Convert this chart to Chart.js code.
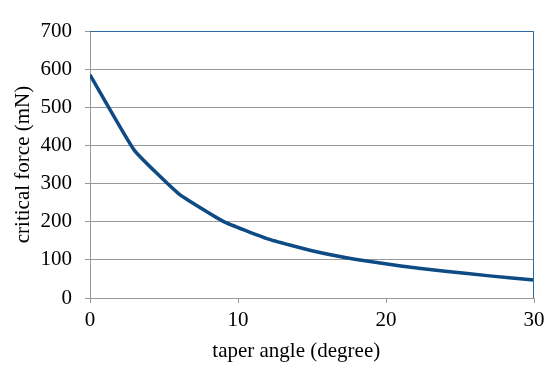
<!DOCTYPE html>
<html>
<head>
<meta charset="utf-8">
<script src="https://cdn.jsdelivr.net/npm/chart.js@4/dist/chart.umd.min.js"></script>
<style>
  html, body { margin: 0; padding: 0; background: #fff; }
  #wrap { width: 550px; height: 375px; }
</style>
</head>
<body>
<div id="wrap"><canvas id="forceChart"></canvas></div>
<script>
// taper angle (degree) vs critical force (mN)
const taperAngles = [0, 3, 6, 9, 12, 15, 18, 21, 24, 27, 30];
const criticalForce = [585, 387, 273, 201, 155, 124, 101, 84, 70, 58, 47];
const xTicks = [0, 10, 20, 30];
const yTicks = [0, 100, 200, 300, 400, 500, 600, 700];

const lineColor = "#0e4a84";
const gridColor = "#999999";
const font = { family: "'Liberation Serif', 'Times New Roman', serif", size: 21 };

// top and right edges of the plot box are drawn in blue
const frameEdges = {
  id: "frameEdges",
  afterDraw(chart) {
    const a = chart.chartArea;
    const c = chart.ctx;
    c.save();
    c.strokeStyle = "#2c6aa0";
    c.lineWidth = 1;
    c.beginPath();
    c.moveTo(a.left, a.top + 0.5);
    c.lineTo(a.right - 0.5, a.top + 0.5);
    c.lineTo(a.right - 0.5, a.bottom);
    c.stroke();
    c.restore();
  },
};

const ctx = document.getElementById("forceChart").getContext("2d");
const forceChart = new Chart(ctx, {
  type: "line",
  data: {
    datasets: [
      {
        data: taperAngles.map((x, i) => ({ x: x, y: criticalForce[i] })),
        borderColor: lineColor,
        borderWidth: 3.5,
        pointRadius: 0,
        tension: 0.12,
        fill: false,
      },
    ],
  },
  options: {
    responsive: true,
    maintainAspectRatio: false,
    animation: false,
    layout: { padding: { top: 31, right: 16, left: 0, bottom: 0 } },
    plugins: { legend: { display: false }, tooltip: { enabled: false } },
    scales: {
      x: {
        type: "linear",
        min: 0,
        max: 30,
        afterBuildTicks: (scale) => {
          scale.ticks = xTicks.map((v) => ({ value: v }));
        },
        afterFit: (scale) => {
          scale.height = 77;
        },
        grid: {
          drawOnChartArea: false,
          drawTicks: true,
          tickLength: 5,
          color: gridColor,
        },
        border: { color: gridColor },
        ticks: { color: "#000", font: font, padding: 5, maxRotation: 0 },
        title: {
          display: true,
          // trailing spaces nudge the centred title a little to the left
          text: "taper angle (degree)      ",
          color: "#000",
          font: font,
          padding: { top: 0, bottom: 11 },
        },
      },
      y: {
        min: 0,
        max: 700,
        afterBuildTicks: (scale) => {
          scale.ticks = yTicks.map((v) => ({ value: v }));
        },
        afterFit: (scale) => {
          scale.width = 90;
        },
        grid: { color: gridColor, tickLength: 5 },
        border: { color: gridColor },
        ticks: { color: "#000", font: font, padding: 13 },
        title: {
          display: true,
          text: "critical force (mN)",
          color: "#000",
          font: font,
          padding: { top: 11, bottom: 0 },
        },
      },
    },
  },
  plugins: [frameEdges],
});
</script>
</body>
</html>
